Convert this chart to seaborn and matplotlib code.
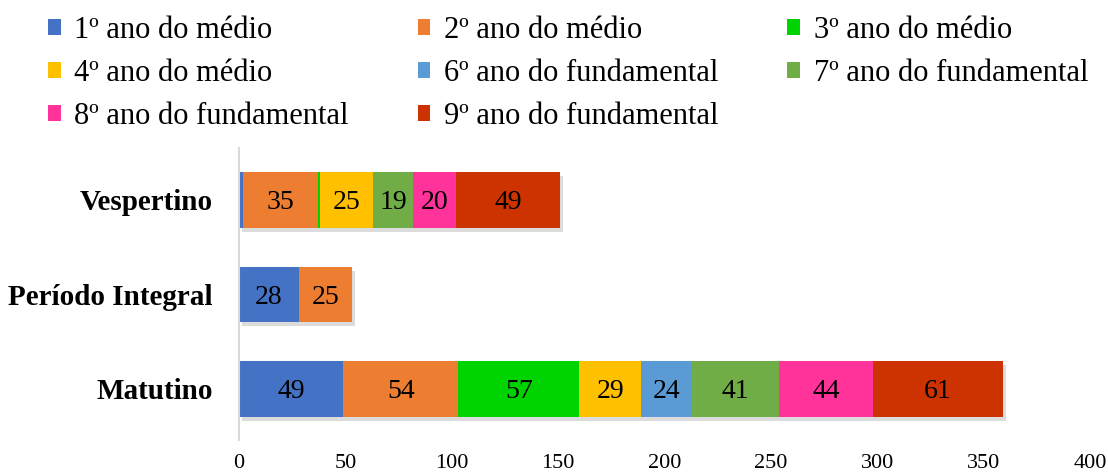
import numpy as np
import pandas as pd
import matplotlib
matplotlib.use("Agg")
import matplotlib.pyplot as plt
import matplotlib.patheffects as pe
from matplotlib.patches import Patch
import seaborn as sns

# Students per shift, broken down by school year
turnos = ["Vespertino", "Período Integral", "Matutino"]
series = [
    "1º ano do médio",
    "2º ano do médio",
    "3º ano do médio",
    "4º ano do médio",
    "6º ano do fundamental",
    "7º ano do fundamental",
    "8º ano do fundamental",
    "9º ano do fundamental",
]
ano1_medio = [2, 28, 49]
ano2_medio = [35, 25, 54]
ano3_medio = [1, 0, 57]
ano4_medio = [25, 0, 29]
ano6_fund = [0, 0, 24]
ano7_fund = [19, 0, 41]
ano8_fund = [20, 0, 44]
ano9_fund = [49, 0, 61]
x_ticks = [0, 50, 100, 150, 200, 250, 300, 350, 400]

cores = ["#4472C4", "#ED7D31", "#00D400", "#FFC000",
         "#5B9BD5", "#70AD47", "#FF3399", "#CC3300"]

valores = [ano1_medio, ano2_medio, ano3_medio, ano4_medio,
           ano6_fund, ano7_fund, ano8_fund, ano9_fund]

sns.set_theme(style="white")
plt.rcParams["font.family"] = ["Liberation Serif", "DejaVu Serif"]
plt.rcParams["text.color"] = "black"
plt.rcParams["xtick.color"] = "black"
plt.rcParams["ytick.color"] = "black"

fig = plt.figure(figsize=(11.08, 4.73), dpi=100)
ax = fig.add_axes([0.2157, 0.070, 0.9838 - 0.2157, 0.687 - 0.070])

# Stacked bars: draw cumulative totals from the longest layer down
data = np.array(valores, dtype=float)
cum = np.cumsum(data, axis=0)
for i in range(len(series) - 1, -1, -1):
    df = pd.DataFrame({"turno": turnos, "total": cum[i]})
    sns.barplot(data=df, x="total", y="turno", order=turnos, orient="h",
                color=cores[i], width=0.59, saturation=1, ax=ax,
                edgecolor="none", linewidth=0)
    if i == len(series) - 1:
        for p in ax.patches:
            p.set_path_effects([
                pe.SimplePatchShadow(offset=(2, -3), shadow_rgbFace="#8c8c8c", alpha=0.3),
                pe.Normal(),
            ])

# Value labels at the middle of each segment
for i in range(len(series)):
    for j in range(len(turnos)):
        v = data[i, j]
        if v >= 10:
            ax.text(cum[i, j] - v / 2, j, f"{int(v)}", ha="center",
                    va="center_baseline", fontsize=20, color="black")

ax.set_xlim(0, 400)
ax.set_ylim(2.54, -0.55)
ax.set_xticks(x_ticks)
ax.set_xticklabels([str(t) for t in x_ticks], fontsize=16)
ax.tick_params(axis="x", length=0, pad=10)
ax.tick_params(axis="y", length=0, pad=19)
for lab in ax.get_yticklabels():
    lab.set_fontweight("bold")
    lab.set_fontsize(21)
ax.set_xlabel("")
ax.set_ylabel("")
for s in ["top", "right", "bottom"]:
    ax.spines[s].set_visible(False)
ax.spines["left"].set_color("#D9D9D9")
ax.spines["left"].set_linewidth(1.5)
ax.grid(False)

# Legend laid out row by row in three columns
handles = [Patch(facecolor=c, edgecolor="none") for c in cores]
ordem = [0, 3, 6, 1, 4, 7, 2, 5]
fig.legend([handles[k] for k in ordem], [series[k] for k in ordem],
           ncol=3, loc="upper left", bbox_to_anchor=(0.032, 0.993),
           frameon=False, fontsize=22, handlelength=0.42, handleheight=0.42,
           handletextpad=0.45, columnspacing=2.25, labelspacing=0.47,
           borderaxespad=0)

fig.savefig("out.png", dpi=100)
